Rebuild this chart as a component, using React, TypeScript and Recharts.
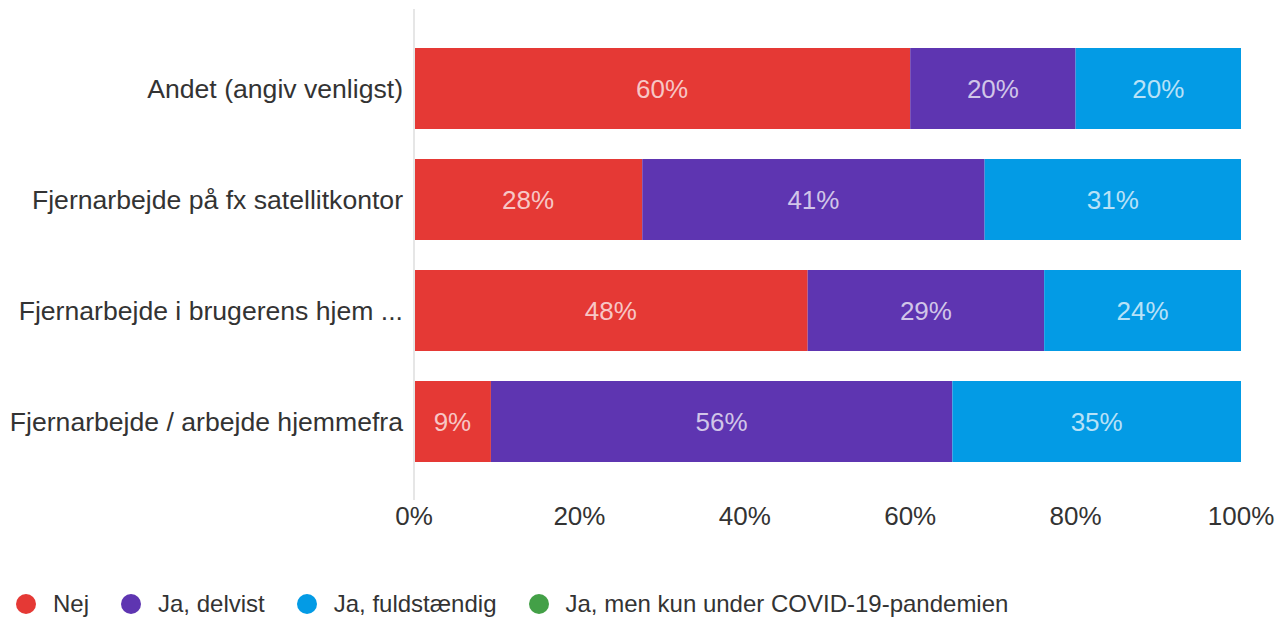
import { Bar, BarChart, LabelList, Legend, XAxis, YAxis } from "recharts";

const categories = [
  "Andet (angiv venligst)",
  "Fjernarbejde på fx satellitkontor",
  "Fjernarbejde i brugerens hjem ...",
  "Fjernarbejde / arbejde hjemmefra",
];
const seriesNames = ["Nej", "Ja, delvist", "Ja, fuldstændig", "Ja, men kun under COVID-19-pandemien"];
const nej = [60, 27.6, 47.6, 9.3];
const delvist = [20, 41.4, 28.6, 55.8];
const fuldt = [20, 31.0, 23.8, 34.9];
const covid = [0, 0, 0, 0];
const xTicks = [0, 20, 40, 60, 80, 100];

const data = categories.map((name, i) => ({
  name,
  nej: nej[i],
  delvist: delvist[i],
  fuldt: fuldt[i],
  covid: covid[i],
}));

const font = "'Liberation Sans', Arial, sans-serif";
const pct = (v: any) => (Number(v) > 0 ? `${Math.round(Number(v))}%` : "");

const renderLegend = (props: any) => {
  const items = [...(props.payload || [])].sort(
    (a: any, b: any) => seriesNames.indexOf(a.value) - seriesNames.indexOf(b.value)
  );
  return (
    <div
      style={{
        display: "flex",
        alignItems: "center",
        height: 28,
        paddingLeft: 16,
        fontFamily: font,
        fontSize: 24,
        color: "#333",
      }}
    >
      {items.map((p: any, i: number) => (
        <div key={i} style={{ display: "flex", alignItems: "center", marginRight: 32 }}>
          <span
            style={{
              display: "inline-block",
              width: 20,
              height: 20,
              borderRadius: 10,
              background: p.color,
              marginRight: 17,
            }}
          />
          <span>{p.value}</span>
        </div>
      ))}
    </div>
  );
};

export default function App() {
  const labelStyle = { fill: "rgba(255,255,255,0.72)", fontSize: 26, fontFamily: font };
  return (
    <div style={{ position: "absolute", left: 0, top: 0, background: "#fff" }}>
      <BarChart
        width={1277}
        height={618}
        data={data}
        layout="vertical"
        margin={{ top: 9, right: 36, bottom: 0, left: 0 }}
        barSize={81}
      >
        <XAxis
          type="number"
          domain={[0, 100]}
          ticks={xTicks}
          tickFormatter={(v) => `${v}%`}
          axisLine={false}
          tickLine={false}
          tickSize={0}
          tickMargin={7}
          height={90}
          tick={{ fill: "#333", fontSize: 26, fontFamily: font }}
        />
        <YAxis
          type="category"
          dataKey="name"
          width={414}
          padding={{ top: 24, bottom: 23 }}
          axisLine={{ stroke: "#e6e6e6", strokeWidth: 2 }}
          tickLine={false}
          tickSize={0}
          tickMargin={11}
          tick={{ fill: "#333", fontSize: 26.6, fontFamily: font }}
        />
        <Legend verticalAlign="bottom" align="left" content={renderLegend} />
        <Bar dataKey="nej" name={seriesNames[0]} stackId="a" fill="#e53935" isAnimationActive={false}>
          <LabelList dataKey="nej" position="center" formatter={pct} style={labelStyle} />
        </Bar>
        <Bar dataKey="delvist" name={seriesNames[1]} stackId="a" fill="#5e35b1" isAnimationActive={false}>
          <LabelList dataKey="delvist" position="center" formatter={pct} style={labelStyle} />
        </Bar>
        <Bar dataKey="fuldt" name={seriesNames[2]} stackId="a" fill="#039be5" isAnimationActive={false}>
          <LabelList dataKey="fuldt" position="center" formatter={pct} style={labelStyle} />
        </Bar>
        <Bar dataKey="covid" name={seriesNames[3]} stackId="a" fill="#43a047" isAnimationActive={false}>
          <LabelList dataKey="covid" position="center" formatter={pct} style={labelStyle} />
        </Bar>
      </BarChart>
    </div>
  );
}
